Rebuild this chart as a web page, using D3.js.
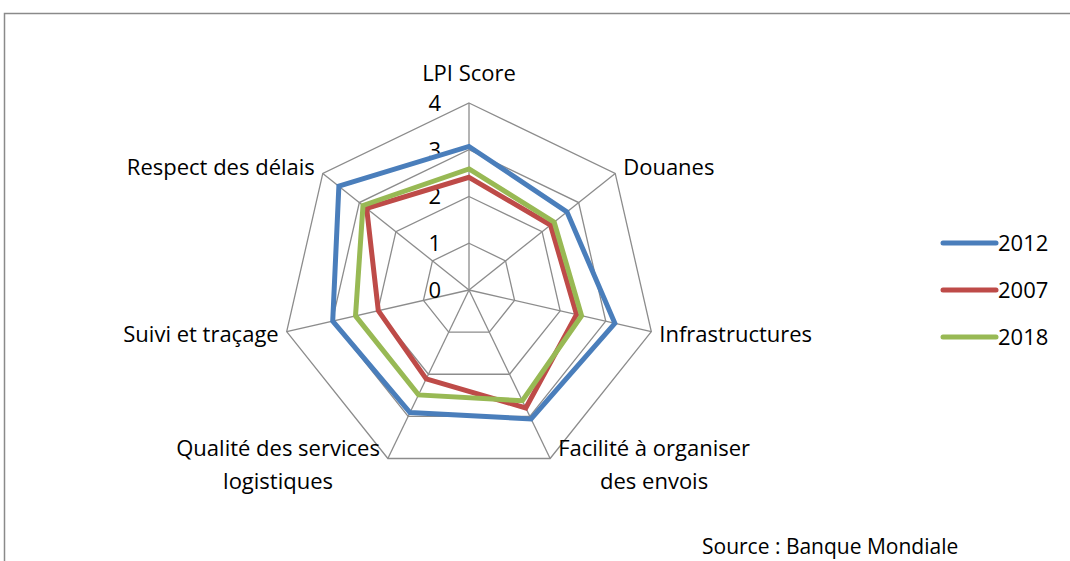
<!DOCTYPE html>
<html lang="fr">
  <head>
    <meta charset="UTF-8" />
    <title>LPI radar</title>
    <style>
      body { margin: 0; background: #fff; }
      text { font-family: "Open Sans", sans-serif; font-size: 22px; fill: #000; }
      .grid { fill: none; stroke: #8c8c8c; stroke-width: 1.3px; }
      .line { fill: none; stroke-width: 5px; stroke-linejoin: miter; }
    </style>
  </head>
  <body>
    <div id="wrapper"></div>
    <script src="https://d3js.org/d3.v7.min.js"></script>
    <script>
      var axes = ["LPI Score", "Douanes", "Infrastructures", "Facilité à organiser\ndes envois",
                  "Qualité des services\nlogistiques", "Suivi et traçage", "Respect des délais"];
      var years = ["2012", "2007", "2018"];
      var v2012 = [3.07, 2.68, 3.20, 3.06, 2.91, 2.99, 3.56];
      var v2007 = [2.41, 2.23, 2.36, 2.80, 2.11, 1.99, 2.80];
      var v2018 = [2.59, 2.33, 2.47, 2.63, 2.49, 2.49, 2.90];
      var ticks = [0, 1, 2, 3, 4];
      var colors = ["#4a7ebb", "#be4b48", "#98b954"];

      var width = 1070, height = 561;
      var cx = 469, cy = 290, radius = 187;

      var svg = d3.select("#wrapper").append("svg")
          .attr("width", width)
          .attr("height", height);

      // frame
      svg.append("path")
          .attr("d", "M4.5," + height + "V13.5H" + width)
          .attr("fill", "none")
          .attr("stroke", "#8a8a8a")
          .attr("stroke-width", 1.5);

      var r = d3.scaleLinear().domain([0, 4]).range([0, radius]);
      var angle = d3.scalePoint().domain(d3.range(axes.length + 1)).range([0, 2 * Math.PI]);

      var g = svg.append("g").attr("transform", "translate(" + cx + "," + cy + ")");

      function pt(i, v) {
        var a = angle(i);
        return [Math.sin(a) * r(v), -Math.cos(a) * r(v)];
      }

      // rings
      ticks.slice(1).forEach(function(t) {
        g.append("path")
            .attr("class", "grid")
            .attr("d", d3.line()(axes.map(function(d, i) { return pt(i, t); })) + "Z");
      });

      // spokes
      axes.forEach(function(d, i) {
        var p = pt(i, 4);
        g.append("line").attr("class", "grid")
            .attr("x1", 0).attr("y1", 0).attr("x2", p[0]).attr("y2", p[1]);
      });

      // tick labels
      g.selectAll(".tick").data(ticks).enter().append("text")
          .attr("x", -28)
          .attr("y", function(d) { return -r(d); })
          .attr("dy", "0.36em")
          .attr("text-anchor", "end")
          .text(function(d) { return d; });

      // series
      var series = [v2012, v2007, v2018];
      var radial = d3.lineRadial()
          .angle(function(d, i) { return angle(i); })
          .radius(function(d) { return r(d); })
          .curve(d3.curveLinearClosed);

      series.forEach(function(vals, k) {
        g.append("path")
            .attr("class", "line")
            .attr("stroke", colors[k])
            .attr("d", radial(vals));
      });

      // axis labels
      axes.forEach(function(name, i) {
        var p = pt(i, 4);
        var lines = name.split("\n");
        var t = g.append("text").attr("text-anchor", "middle");
        lines.forEach(function(l, j) {
          t.append("tspan").attr("x", 0).attr("dy", j === 0 ? "0.36em" : 33).text(l);
        });
        var w = t.node().getBBox().width;
        var sx = Math.sin(angle(i));
        var tx, ty;
        if (i === 0) {
          tx = p[0]; ty = p[1] - 30;
        } else {
          tx = sx > 0 ? p[0] + 8 + w / 2 : p[0] - 8 - w / 2;
          if (lines.length > 1) ty = p[1] - 10;
          else if (p[1] < 0) ty = p[1] - 6;
          else ty = p[1] + 2;
        }
        t.attr("transform", "translate(" + tx + "," + ty + ")");
      });

      // legend
      var legend = svg.append("g").attr("transform", "translate(943,243)");
      years.forEach(function(y, k) {
        var row = legend.append("g").attr("transform", "translate(0," + (k * 47) + ")");
        row.append("line")
            .attr("x1", 0).attr("x2", 53)
            .attr("stroke", colors[k])
            .attr("stroke-width", 5)
            .attr("stroke-linecap", "round");
        row.append("text").attr("x", 55).attr("dy", "0.36em").text(y);
      });

      svg.append("text")
          .attr("x", 702)
          .attr("y", 554)
          .style("font-size", "21px")
          .text("Source : Banque Mondiale");
    </script>
  </body>
</html>
